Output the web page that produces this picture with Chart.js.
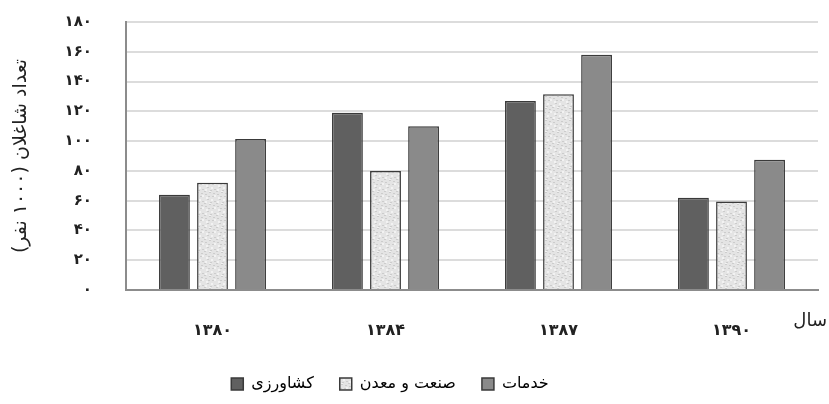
<!DOCTYPE html>
<html>
<head>
<meta charset="utf-8">
<script src="https://cdn.jsdelivr.net/npm/chart.js@4/dist/chart.umd.min.js"></script>
<style>
  html, body { margin: 0; padding: 0; background: #fff; }
  #wrap { width: 829px; height: 404px; }
</style>
</head>
<body>
<div id="wrap"><canvas id="chart"></canvas></div>
<script>
// years (Persian calendar) and employment per sector, thousand people
const years = ["۱۳۸۰", "۱۳۸۴", "۱۳۸۷", "۱۳۹۰"];
const agriculture = [64, 119, 127, 62];
const industry = [72, 80, 131.5, 59.5];
const services = [101.5, 110, 158, 87.5];
const seriesNames = ["کشاورزی", "صنعت و معدن", "خدمات"];
const yTicks = [0, 20, 40, 60, 80, 100, 120, 140, 160, 180];

const FONT = "'DejaVu Sans', sans-serif";
const RLM = "\u200F";

// persian digits for tick labels
function toFa(n) {
  return String(n).replace(/\d/g, d => "۰۱۲۳۴۵۶۷۸۹"[d]);
}

// light speckled texture for the industry bars
function makePattern() {
  const c = document.createElement("canvas");
  c.width = 12; c.height = 12;
  const g = c.getContext("2d");
  g.fillStyle = "#e4e4e4";
  g.fillRect(0, 0, 12, 12);
  g.fillStyle = "#cccccc";
  [[1,2],[5,0],[8,4],[3,7],[10,9],[6,10],[0,11],[9,1],[4,4]].forEach(p => g.fillRect(p[0], p[1], 2, 1));
  g.fillStyle = "#f2f2f2";
  [[2,5],[7,7],[10,3],[5,11],[1,9]].forEach(p => g.fillRect(p[0], p[1], 2, 2));
  return g.createPattern(c, "repeat");
}

// "سال" label at the right end of the x axis
const yearLabel = {
  id: "yearLabel",
  afterDraw(chart) {
    const ctx = chart.ctx;
    ctx.save();
    ctx.font = "18px " + FONT;
    ctx.fillStyle = "#222";
    ctx.textAlign = "right";
    ctx.textBaseline = "middle";
    ctx.fillText("سال", 827, 321);
    ctx.restore();
  }
};

// nudge legend a bit left like the original
const legendShift = {
  id: "legendShift",
  afterLayout(chart) {
    chart.legend.left -= 19;
    chart.legend.right -= 19;
  }
};

const common = { borderColor: "#3a3a3a", borderWidth: 1.5, borderSkipped: "bottom",
  categoryPercentage: 0.66, barPercentage: 0.81 };

new Chart(document.getElementById("chart"), {
  type: "bar",
  data: {
    labels: years,
    datasets: [
      { label: seriesNames[0], data: agriculture, backgroundColor: "#606060", ...common },
      { label: seriesNames[1], data: industry, backgroundColor: makePattern(), ...common },
      { label: seriesNames[2], data: services, backgroundColor: "#8a8a8a", ...common }
    ]
  },
  options: {
    responsive: true,
    maintainAspectRatio: false,
    animation: false,
    layout: { padding: { top: 22, right: 11, left: 0, bottom: 2 } },
    plugins: {
      tooltip: { enabled: false },
      legend: {
        position: "bottom",
        labels: {
          color: "#222",
          font: { family: FONT, size: 16 },
          boxWidth: 12, boxHeight: 12,
          padding: 26,
          generateLabels(chart) {
            return chart.data.datasets.map((ds, i) => ({
              text: ds.label,
              fillStyle: ds.backgroundColor,
              strokeStyle: "#3a3a3a",
              lineWidth: 1.5,
              datasetIndex: i,
              hidden: false
            }));
          }
        }
      }
    },
    scales: {
      x: {
        grid: { display: false, drawTicks: false },
        border: { color: "#8c8c8c", width: 2 },
        ticks: { color: "#222", padding: 31, font: { family: FONT, size: 16, weight: "bold" } },
        afterFit(s) { s.height = 60; }
      },
      y: {
        min: 0, max: 180,
        afterBuildTicks(s) { s.ticks = yTicks.map(v => ({ value: v })); },
        grid: { color: "#dcdcdc", lineWidth: 2, drawTicks: true, tickLength: 34, tickColor: "rgba(0,0,0,0)" },
        border: { color: "#8c8c8c", width: 2 },
        ticks: {
          color: "#222", padding: 0,
          font: { family: FONT, size: 15, weight: "bold" },
          callback: v => toFa(v)
        },
        title: {
          display: true,
          text: RLM + "تعداد شاغلان (۱۰۰۰ نفر)" + RLM,
          color: "#222",
          font: { family: FONT, size: 19 },
          padding: { top: 10, bottom: 0 }
        },
        afterFit(s) { s.width = 126; }
      }
    }
  },
  plugins: [yearLabel, legendShift]
});
</script>
</body>
</html>
